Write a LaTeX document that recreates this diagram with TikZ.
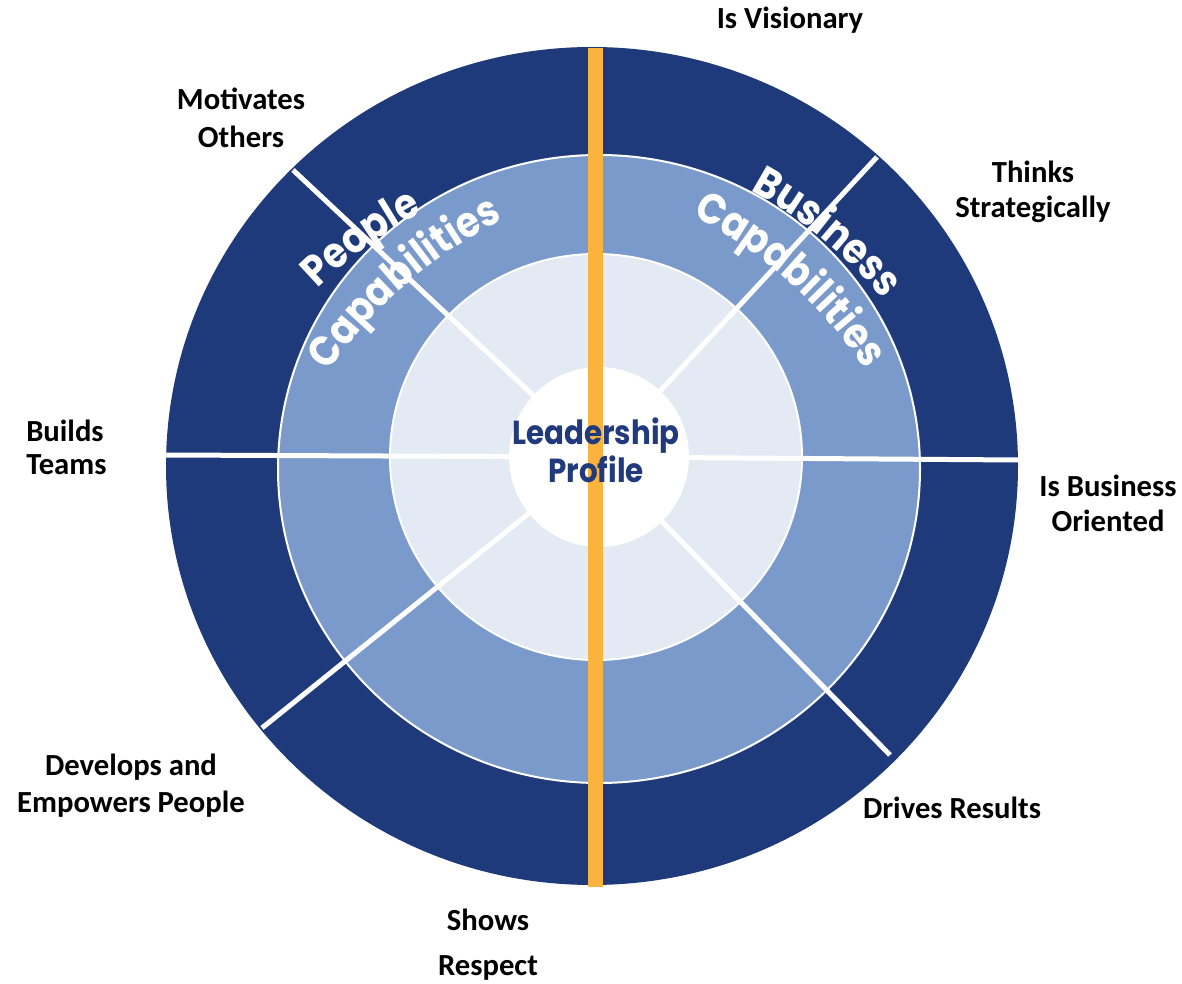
\documentclass[tikz,border=0pt]{standalone}
\usepackage{fontspec}
\setmainfont{Carlito}
\newfontfamily\comicfont{Poppins}[FakeStretch=0.88]
\usetikzlibrary{decorations.text}
\definecolor{navy}{HTML}{1F3A7B}
\definecolor{midblue}{HTML}{7A9ACB}
\definecolor{lightblue}{HTML}{E4EAF3}
\definecolor{barorange}{HTML}{FAB43E}
\definecolor{titlenavy}{HTML}{203A7C}
\begin{document}
\begin{tikzpicture}[x=0.75pt,y=0.75pt,
  divider/.style={white, line width=3.75pt},
  bar/.style={barorange, line width=11.25pt},
  lbl/.style={font=\bfseries\fontsize{23}{27}\selectfont, align=center, anchor=base, inner sep=0pt},
  arctext/.style={decorate, decoration={text along path, text align=center, text color=white}},
  arcfont/.style={decoration={text={|\comicfont\bfseries\fontsize{32}{32}\selectfont|#1}}}]
\path[use as bounding box] (0,0) rectangle (1182,983);
% centres
\coordinate (oc) at (592,517);
\coordinate (mc) at (599,514);
\coordinate (ic) at (596,526);
\coordinate (c) at (599,526);
% rings
\fill[navy] (oc) ellipse[x radius=426, y radius=419];
\filldraw[fill=midblue, draw=white, line width=1.5pt] (mc) ellipse[x radius=321, y radius=314];
\filldraw[fill=lightblue, draw=white, line width=1.5pt] (ic) ellipse[x radius=206, y radius=203];
% divider ends
\coordinate (ul) at (293,813);
\coordinate (ur) at (877,826);
\coordinate (le) at (166,528);
\coordinate (ri) at (1018,523);
\coordinate (ll) at (262,255);
\coordinate (lr) at (890,228);
\foreach \e in {ul,ur,le,ri,ll,lr} \draw[divider] (c) -- (\e);
% core
\fill[white] (c) circle[radius=90];
% orange bar
\coordinate (bartop) at (595.5,935);
\coordinate (barbot) at (595.5,96);
\draw[bar] (bartop) -- (barbot);
% curved texts (centres of curvature)
\coordinate (pc1) at (631.5,372);
\coordinate (pc2) at (701.4,358.8);
\coordinate (bc1) at (536,397);
\coordinate (bc2) at (489.3,365.6);
\path[arctext, arcfont=People] (pc1) ++(151:450) arc[start angle=151, end angle=101, radius=450];
\path[arctext, arcfont=Capabilities] (pc2) ++(161:450) arc[start angle=161, end angle=101, radius=450];
\path[arctext, arcfont=Business] (bc1) ++(75.5:450) arc[start angle=75.5, end angle=25.5, radius=450];
\path[arctext, arcfont=Capabilities] (bc2) ++(78.3:450) arc[start angle=78.3, end angle=18.3, radius=450];
% centre title
\node[font=\comicfont\bfseries\fontsize{25}{28.5}\selectfont, text=titlenavy, align=center, anchor=base, inner sep=0pt] (lp) at (596,500) {Leadership\\Profile};
% labels
\node[lbl] (visionary) at (790,954) {Is Visionary};
\node[lbl, font=\bfseries\fontsize{23}{28.5}\selectfont] (motivates) at (241,835) {Motivates\\Others};
\node[lbl, font=\bfseries\fontsize{23}{26.25}\selectfont] (thinks) at (1033,765) {Thinks\\Strategically};
\node[lbl, font=\bfseries\fontsize{23}{26.25}\selectfont] (business) at (1108,451) {Is Business\\Oriented};
\node[lbl] (drives) at (952,165) {Drives Results};
\node[lbl, font=\bfseries\fontsize{23}{33.75}\selectfont] (shows) at (488,8) {Shows\\Respect};
\node[lbl, font=\bfseries\fontsize{23}{27.75}\selectfont] (develops) at (131,171) {Develops and\\Empowers People};
\node[lbl, font=\bfseries\fontsize{23}{24.75}\selectfont, align=left, anchor=base west] (builds) at (26,508) {Builds\\Teams};
\end{tikzpicture}
\end{document}
